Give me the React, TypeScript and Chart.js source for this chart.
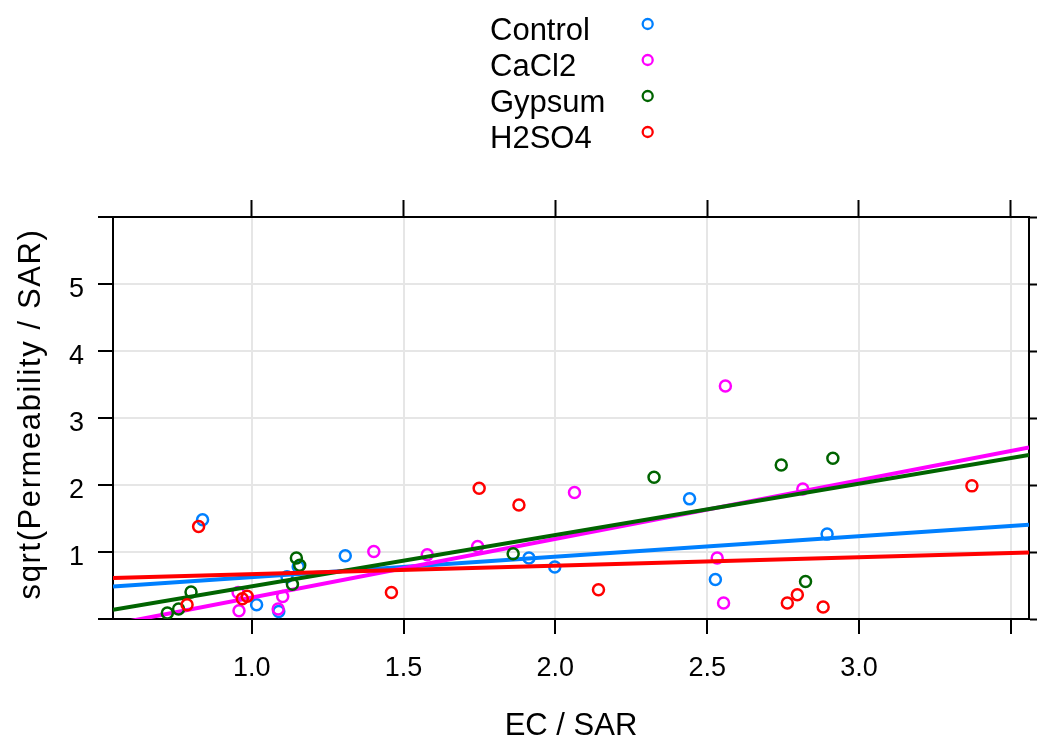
import React, { useEffect, useRef } from "react";
import { Chart, registerables } from "chart.js";

Chart.register(...registerables);

// Treatment groups and their colours
const groups = ["Control", "CaCl2", "Gypsum", "H2SO4"];
const groupColors = ["#0080ff", "#ff00ff", "#006400", "#ff0000"];

// EC / SAR (x) and sqrt(Permeability / SAR) (y) per treatment
const controlX = [0.838, 1.016, 1.089, 1.116, 1.153, 1.308, 1.913, 1.998, 2.442, 2.527, 2.895];
const controlY = [1.48, 0.213, 0.113, 0.63, 0.779, 0.943, 0.909, 0.775, 1.793, 0.59, 1.267];

const cacl2X = [0.958, 0.955, 1.087, 1.102, 1.402, 1.578, 1.744, 2.063, 2.56, 2.533, 2.554, 2.815];
const cacl2Y = [0.124, 0.396, 0.149, 0.337, 1.007, 0.958, 1.082, 1.887, 3.477, 0.909, 0.238, 1.94];

const gypsumX = [0.722, 0.759, 0.8, 1.134, 1.147, 1.158, 1.861, 2.325, 2.744, 2.914, 2.824];
const gypsumY = [0.089, 0.149, 0.402, 0.519, 0.909, 0.802, 0.973, 2.116, 2.3, 2.399, 0.56];

const h2so4X = [0.825, 0.787, 0.969, 0.985, 1.46, 1.749, 1.88, 2.142, 2.764, 2.797, 2.882, 3.372];
const h2so4Y = [1.38, 0.213, 0.303, 0.34, 0.396, 1.952, 1.703, 0.437, 0.238, 0.362, 0.179, 1.987];

// Least-squares fit per treatment: y = intercept + slope * x
const fitIntercept = [0.3206, -0.555, -0.2772, 0.5423];
const fitSlope = [0.3046, 0.875, 0.7657, 0.1265];

// Axis ranges and ticks
const xRange = [0.543, 3.56];
const yRange = [0, 6];
const xTicks = [1.0, 1.5, 2.0, 2.5, 3.0, 3.5];
const xLabelMax = 3.0;
const yTicks = [0, 1, 2, 3, 4, 5, 6];
const yLabelMin = 1;
const yLabelMax = 5;

const xTitle = "EC / SAR";
const yTitle = "sqrt(Permeability / SAR)";

const FONT = '"Liberation Sans", Arial, Helvetica, sans-serif';
const W = 1037;
const H = 743;

const groupXs = [controlX, cacl2X, gypsumX, h2so4X];
const groupYs = [controlY, cacl2Y, gypsumY, h2so4Y];

const textLayer = {
  id: "textLayer",
  afterDraw(chart: any) {
    const ctx = chart.ctx;
    const area = chart.chartArea;
    ctx.save();
    ctx.fillStyle = "#000";

    // key: names on the left, symbols on the right
    ctx.font = `31px ${FONT}`;
    ctx.textAlign = "left";
    ctx.textBaseline = "alphabetic";
    groups.forEach((g, i) => {
      ctx.fillStyle = "#000";
      ctx.fillText(g, 490, 39.5 + i * 36.3);
      ctx.beginPath();
      ctx.arc(647.7, 24 + i * 36, 5, 0, Math.PI * 2);
      ctx.strokeStyle = groupColors[i];
      ctx.lineWidth = 2.3;
      ctx.stroke();
    });

    // x axis title
    ctx.fillStyle = "#000";
    ctx.textAlign = "center";
    ctx.fillText(xTitle, (area.left + area.right) / 2, 735);

    // y axis title
    ctx.translate(40, 414);
    ctx.rotate(-Math.PI / 2);
    (ctx as any).letterSpacing = "1.6px";
    ctx.fillText(yTitle, 0, 0);
    ctx.restore();
  },
};

export default function App() {
  const canvasRef = useRef<HTMLCanvasElement | null>(null);

  useEffect(() => {
    if (!canvasRef.current) return;

    const datasets: any[] = [];
    groups.forEach((g, i) => {
      const pts = groupXs[i].map((x, k) => ({ x, y: groupYs[i][k] }));
      datasets.push({
        type: "scatter",
        label: g,
        data: pts,
        borderColor: groupColors[i],
        backgroundColor: "rgba(0,0,0,0)",
        borderWidth: 2.5,
        pointStyle: "circle",
        pointBackgroundColor: "rgba(0,0,0,0)",
        pointBorderColor: groupColors[i],
        pointBorderWidth: 2.5,
        pointRadius: 5.5,
        pointHoverRadius: 5.5,
        pointHoverBorderWidth: 2.5,
        showLine: false,
        order: 100 - 2 * i,
      });
      const x0 = xRange[0];
      const x1 = xRange[1];
      datasets.push({
        type: "line",
        label: g + " fit",
        data: [
          { x: x0, y: fitIntercept[i] + fitSlope[i] * x0 },
          { x: x1, y: fitIntercept[i] + fitSlope[i] * x1 },
        ],
        borderColor: groupColors[i],
        backgroundColor: groupColors[i],
        borderWidth: 4,
        pointRadius: 0,
        pointHoverRadius: 0,
        tension: 0,
        fill: false,
        clip: 0,
        order: 99 - 2 * i,
      });
    });

    const tickFont = { family: FONT, size: 27 };

    const chart = new Chart(canvasRef.current, {
      type: "scatter",
      data: { datasets },
      options: {
        animation: false,
        responsive: false,
        devicePixelRatio: 1,
        events: [],
        layout: { padding: 0 },
        plugins: {
          legend: { display: false },
          tooltip: { enabled: false },
          title: { display: false },
        },
        scales: {
          x: {
            type: "linear",
            position: "bottom",
            min: xRange[0],
            max: xRange[1],
            afterBuildTicks: (s: any) => {
              s.ticks = xTicks.map((v) => ({ value: v }));
            },
            afterFit: (s: any) => {
              s.height = H - 619;
            },
            ticks: {
              autoSkip: false,
              maxRotation: 0,
              color: "#000",
              font: tickFont,
              padding: 18,
              callback: (_v: any, idx: number) =>
                xTicks[idx] <= xLabelMax ? xTicks[idx].toFixed(1) : "",
            },
            grid: {
              color: "#e6e6e6",
              lineWidth: 2,
              tickColor: "#000",
              tickWidth: 2,
              tickLength: 15,
            },
            border: { color: "#000", width: 2 },
          },
          xTop: {
            type: "linear",
            position: "top",
            min: xRange[0],
            max: xRange[1],
            afterBuildTicks: (s: any) => {
              s.ticks = xTicks.map((v) => ({ value: v }));
            },
            afterFit: (s: any) => {
              s.height = 217;
            },
            ticks: { display: false },
            grid: {
              drawOnChartArea: false,
              tickColor: "#000",
              tickWidth: 2,
              tickLength: 17,
            },
            border: { color: "#000", width: 2 },
          },
          y: {
            type: "linear",
            position: "left",
            min: yRange[0],
            max: yRange[1],
            afterBuildTicks: (s: any) => {
              s.ticks = yTicks.map((v) => ({ value: v }));
            },
            afterFit: (s: any) => {
              s.width = 113;
            },
            ticks: {
              autoSkip: false,
              color: "#000",
              font: tickFont,
              padding: 14,
              labelOffset: 6,
              callback: (_v: any, idx: number) =>
                yTicks[idx] >= yLabelMin && yTicks[idx] <= yLabelMax
                  ? String(yTicks[idx])
                  : "",
            },
            grid: {
              color: "#e6e6e6",
              lineWidth: 2,
              tickColor: "#000",
              tickWidth: 2,
              tickLength: 15,
            },
            border: { color: "#000", width: 2 },
          },
          yRight: {
            type: "linear",
            position: "right",
            min: yRange[0],
            max: yRange[1],
            afterBuildTicks: (s: any) => {
              s.ticks = yTicks.map((v) => ({ value: v }));
            },
            afterFit: (s: any) => {
              s.width = W - 1035;
            },
            ticks: { display: false },
            grid: {
              drawOnChartArea: false,
              tickColor: "#000",
              tickWidth: 2,
              tickLength: 15,
            },
            border: { color: "#000", width: 2 },
          },
        },
      } as any,
      plugins: [textLayer],
    });

    return () => chart.destroy();
  }, []);

  return (
    <div style={{ position: "fixed", left: 0, top: 0, width: W, height: H, background: "#fff" }}>
      <canvas ref={canvasRef} width={W} height={H} style={{ display: "block" }} />
    </div>
  );
}
